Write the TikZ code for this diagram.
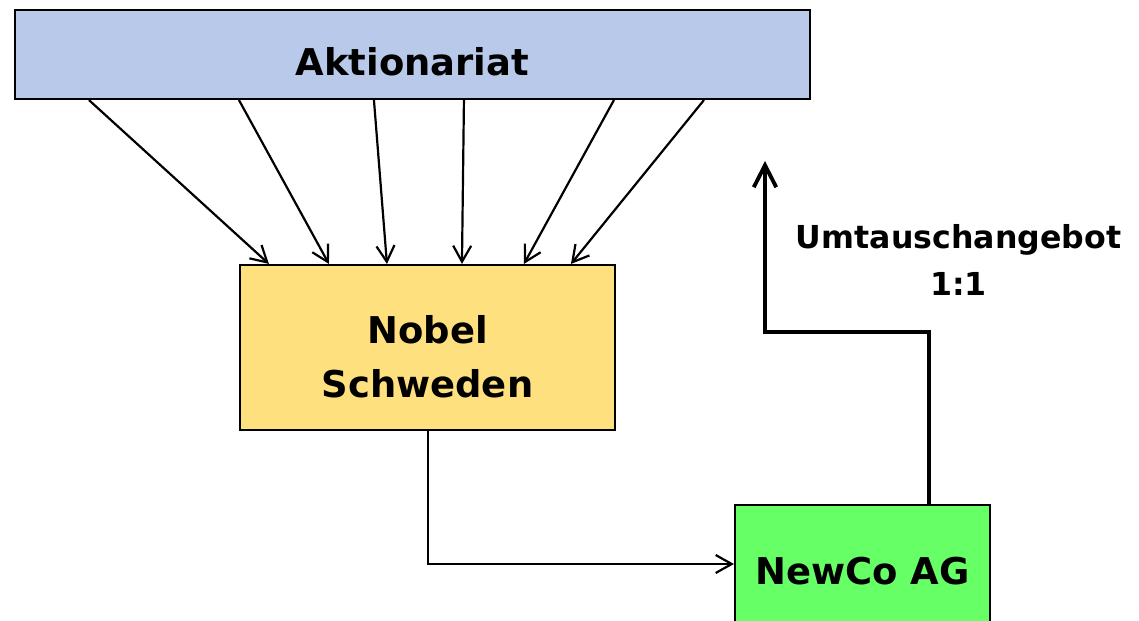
\documentclass[tikz,border=0pt]{standalone}
\usepackage{fontspec}
\setmainfont{DejaVu Sans}
\usepackage{xcolor}
\usepackage{tikz}
\usetikzlibrary{calc,arrows.meta}
\definecolor{lavender}{HTML}{B9C9E9}
\definecolor{sand}{HTML}{FFE07F}
\definecolor{mint}{HTML}{66FF66}
\tikzset{
  box/.style={draw=black, line width=1.2pt, inner sep=0pt, align=center, font=\bfseries\fontsize{21}{30.6}\selectfont},
  link/.style={draw=black, line width=1.25pt, -{Straight Barb[length=3.2mm,width=3.6mm]}},
  offer/.style={draw=black, line width=2.2pt, line join=miter, -{Straight Barb[length=4.4mm,width=4.5mm]}},
  lab/.style={text=black, align=center, font=\bfseries\fontsize{18}{26.6}\selectfont},
}

\begin{document}
\begin{tikzpicture}
  \useasboundingbox (0,0) rectangle (22.78,-12.42);
  \node[box, fill=lavender, minimum width=15.9cm, minimum height=1.78cm, text height=0.86cm, text depth=0pt] (akt) at (8.25,-1.09) {Aktionariat};
  \node[box, fill=sand, minimum width=7.5cm, minimum height=3.3cm] (nobel) at (8.55,-6.95) {\rule{0pt}{0.94cm}Nobel\\Schweden};
  \node[box, fill=mint, minimum width=5.1cm, minimum height=2.66cm] (newco) at (17.25,-11.43) {NewCo AG};
  \coordinate (knee) at (15.3,-6.64);
  \coordinate (tip) at (15.3,-3.22);
  \foreach \a/\b in {1.5/0.6, 4.5/1.8, 7.2/2.96, 9.0/4.46, 12.0/5.7, 13.8/6.64}
    \draw[link] ([xshift=\a cm]akt.south west) -- ([xshift=\b cm]nobel.north west);
  \draw[link] ([xshift=0.01cm]nobel.south) |- ([yshift=0.15cm]newco.west);
  \draw[offer] ([xshift=3.9cm]newco.north west) |- (knee) -- (tip);
  \node[lab] (umt) at (19.17,-5.2) {Umtauschangebot\\1:1};
\end{tikzpicture}
\end{document}
